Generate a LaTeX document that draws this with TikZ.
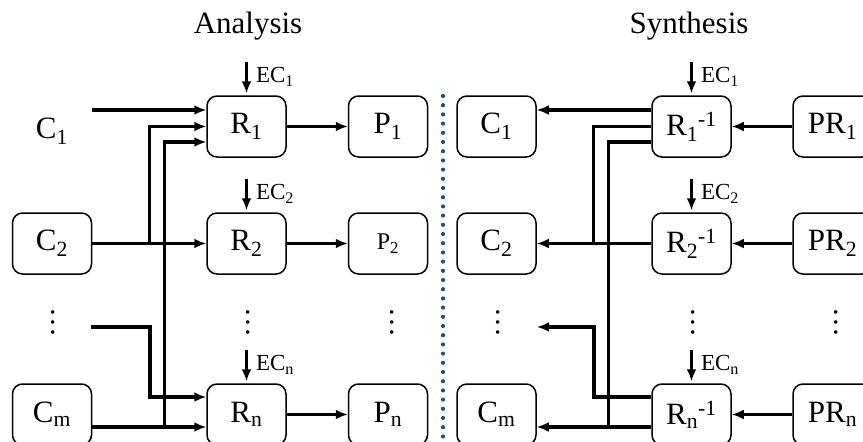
\documentclass[tikz,border=0pt]{standalone}
\usepackage{fontspec}
\setmainfont{Liberation Serif}
\usetikzlibrary{arrows.meta}

\definecolor{divblue}{RGB}{31,78,121}

\tikzset{
  blk/.style={draw, rounded corners=10pt, line width=1.5pt, minimum width=79pt,
    minimum height=61pt, inner sep=0pt, font=\fontsize{31}{37}\selectfont},
  lbl/.style={blk, draw=none},
  dotsn/.style={rotate=90, inner sep=0pt, font=\fontsize{30}{36}\selectfont},
  arr/.style={line width=3.2pt, -{Latex[length=12pt,width=10pt]}},
  wire/.style={line width=3.2pt},
  eclab/.style={right, pos=0.45, inner sep=0pt, xshift=8pt, font=\fontsize{23}{27}\selectfont},
  title/.style={font=\fontsize{31}{37}\selectfont},
}

\begin{document}
\begin{tikzpicture}[x=1pt, y=-1pt]
			\useasboundingbox (0,0) rectangle (863,442);
			% titles
			\node[title] (ana) at (248,26) {Analysis};
			\node[title] (syn) at (689,26) {Synthesis};
			% analysis blocks
			\node[lbl] (C1) at (52,131) {C\textsubscript{1}};
			\node[blk] (C2) at (52,243.5) {C\textsubscript{2}};
			\node[dotsn] (dl) at (53,322) {…};
			\node[blk] (Cm) at (52,414.5) {C\textsubscript{m}};
			\node[blk] (R1) at (246.5,126.5) {R\textsubscript{1}};
			\node[blk] (R2) at (246.5,243.5) {R\textsubscript{2}};
			\node[dotsn] (Rd) at (248,322) {…};
			\node[blk] (Rn) at (246.5,414.5) {R\textsubscript{n}};
			\node[blk] (P1) at (388,126.5) {P\textsubscript{1}};
			\node[blk, font=\fontsize{24}{28}\selectfont] (P2) at (388,243.5) {P\textsubscript{2}};
			\node[dotsn] (Pd) at (392,322) {…};
			\node[blk] (Pn) at (388,414.5) {P\textsubscript{n}};
			% synthesis blocks
			\node[blk] (C1r) at (496.5,126.5) {C\textsubscript{1}};
			\node[blk] (C2r) at (496.5,243.5) {C\textsubscript{2}};
			\node[dotsn] (dr) at (498,322) {…};
			\node[blk] (Cmr) at (496.5,414.5) {C\textsubscript{m}};
			\node[blk] (S1) at (691.5,126.5) {R\textsubscript{1}\textsuperscript{-1}};
			\node[blk] (S2) at (691.5,243.5) {R\textsubscript{2}\textsuperscript{-1}};
			\node[dotsn] (Sd) at (693,322) {…};
			\node[blk] (Sn) at (691.5,414.5) {R\textsubscript{n}\textsuperscript{-1}};
			\node[blk] (PR1) at (832.5,126.5) {PR\textsubscript{1}};
			\node[blk] (PR2) at (832.5,243.5) {PR\textsubscript{2}};
			\node[dotsn] (PRd) at (836,322) {…};
			\node[blk] (PRn) at (832.5,414.5) {PR\textsubscript{n}};
			% divider
			\draw[divblue, line width=4.2pt, line cap=round, dash pattern=on 0pt off 9.2pt] (443,96) -- (443,450);
			% analysis connectors
			\coordinate (r1a) at ([yshift=16.5pt]R1.west);
			\coordinate (r1c) at ([yshift=-15.5pt]R1.west);
			\coordinate (rna) at ([yshift=17.5pt]Rn.west);
			\coordinate (rnb) at ([yshift=-12.5pt]Rn.west);
			\coordinate (b1) at ([xshift=57pt]C2.east);
			\coordinate (b2) at ([xshift=72pt,yshift=-12.5pt]Cm.east);
			\coordinate (d1) at ([xshift=38pt,yshift=-5pt]dl.center);
			\draw[arr] (r1a -| C1.east) -- (r1a);
			\draw[arr] (C2) -- (R2);
			\draw[arr] (b1) |- (R1.west);
			\draw[arr] (b2) |- (r1c);
			\draw[arr] (d1) -- ++(59,0) |- (rna);
			\draw[arr] (rnb -| Cm.east) -- (rnb);
			\draw[arr] (R1) -- (P1);
			\draw[arr] (R2) -- (P2);
			\draw[arr] (Rn) -- (Pn);
			\draw[arr, shorten >=2pt] ([yshift=33pt]R1.north) -- node[eclab] (ec1) {EC\textsubscript{1}} (R1.north);
			\draw[arr, shorten >=2pt] ([yshift=33pt]R2.north) -- node[eclab] (ec2) {EC\textsubscript{2}} (R2.north);
			\draw[arr, shorten >=2pt] ([yshift=33pt]Rn.north) -- node[eclab] (ecn) {EC\textsubscript{n}} (Rn.north);
			% synthesis connectors
			\coordinate (s1a) at ([yshift=16.5pt]S1.west);
			\coordinate (s1c) at ([yshift=-15.5pt]S1.west);
			\coordinate (sna) at ([yshift=17.5pt]Sn.west);
			\coordinate (snb) at ([yshift=-12.5pt]Sn.west);
			\coordinate (j1) at ([xshift=57pt]C2r.east);
			\coordinate (j2) at ([xshift=72pt,yshift=-12.5pt]Cmr.east);
			\coordinate (d2) at ([xshift=39pt,yshift=-5pt]dr.center);
			\draw[arr] (s1a) -- (s1a -| C1r.east);
			\draw[wire] (S1.west) -| (j1);
			\draw[wire] (s1c) -| (j2);
			\draw[arr] (S2) -- (C2r);
			\draw[arr] (sna) -| ([xshift=57pt]d2) -- (d2);
			\draw[arr] (snb) -- (snb -| Cmr.east);
			\draw[arr] (PR1) -- (S1);
			\draw[arr] (PR2) -- (S2);
			\draw[arr] (PRn) -- (Sn);
			\draw[arr, shorten >=2pt] ([yshift=33pt]S1.north) -- node[eclab] (ec1r) {EC\textsubscript{1}} (S1.north);
			\draw[arr, shorten >=2pt] ([yshift=33pt]S2.north) -- node[eclab] (ec2r) {EC\textsubscript{2}} (S2.north);
			\draw[arr, shorten >=2pt] ([yshift=33pt]Sn.north) -- node[eclab] (ecnr) {EC\textsubscript{n}} (Sn.north);
			\end{tikzpicture}
\end{document}
